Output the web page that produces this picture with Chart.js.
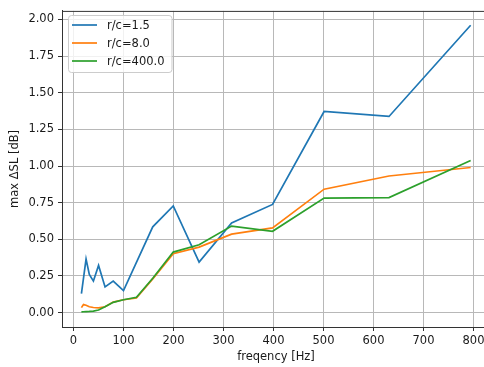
<!DOCTYPE html>
<html>
<head>
<meta charset="utf-8">
<script src="https://cdn.jsdelivr.net/npm/chart.js@4/dist/chart.umd.min.js"></script>
<style>
  html, body { margin: 0; padding: 0; overflow: hidden; background: #fff; }
  canvas { display: block; }
</style>
</head>
<body>
<canvas id="chart" width="490" height="367"></canvas>
<script>
// third-octave centre frequencies [Hz]
const freqs = [15.85, 19.95, 25.12, 31.62, 39.81, 50.12, 63.1, 79.43, 100, 125.9, 158.5, 199.5, 251.2, 316.2, 398.1, 501.2, 631, 794.3];

// max delta SL [dB] per ratio r/c
const rc15  = [0.13, null, 0.365, 0.26, 0.215, 0.322, 0.175, 0.215, 0.15, null, 0.585, 0.728, 0.345, 0.612, 0.738, 1.372, 1.338, 1.96];
const rc8   = [0.034, 0.055, 0.05, 0.04, 0.035, 0.032, 0.04, 0.072, 0.088, 0.10, 0.23, 0.402, 0.447, 0.535, 0.578, 0.842, 0.932, 0.99];
const rc400 = [0.005, 0.006, 0.007, 0.008, 0.01, 0.018, 0.04, 0.07, 0.088, 0.105, 0.235, 0.413, 0.463, 0.59, 0.555, 0.781, 0.785, 1.037];

const seriesLabels = ['r/c=1.5', 'r/c=8.0', 'r/c=400.0'];
const seriesColors = ['#1f77b4', '#ff7f0e', '#2ca02c'];

const font = { family: 'DejaVu Sans', size: 11.5 };
const textColor = '#1a1a1a';

function toPoints(vals) {
  return freqs.map((f, i) => ({ x: f, y: vals[i] }));
}

const datasets = [rc15, rc8, rc400].map((vals, i) => ({
  label: seriesLabels[i],
  data: toPoints(vals),
  borderColor: seriesColors[i],
  backgroundColor: seriesColors[i],
  borderWidth: 1.7,
  pointRadius: 0,
  tension: 0,
  spanGaps: true,
  order: 2 - i
}));

// top spine + legend box drawn inside the plot like matplotlib
const frameAndLegend = {
  id: 'frameAndLegend',
  afterDraw(chart) {
    const ctx = chart.ctx;
    const a = chart.chartArea;
    ctx.save();
    ctx.strokeStyle = '#333';
    ctx.lineWidth = 1;
    ctx.beginPath();
    ctx.moveTo(a.left, a.top + 0.5);
    ctx.lineTo(a.right, a.top + 0.5);
    ctx.stroke();

    ctx.font = `${font.size}px ${font.family}`;
    const labels = chart.data.datasets.map(d => d.label);
    const maxW = Math.max(...labels.map(l => ctx.measureText(l).width));
    const x0 = 68, y0 = 15, rowH = 18;
    const w = 39 + maxW + 7, h = rowH * labels.length + 3;
    ctx.beginPath();
    ctx.roundRect(x0 + 0.5, y0 + 0.5, w, h, 3);
    ctx.fillStyle = 'rgba(255,255,255,0.8)';
    ctx.fill();
    ctx.strokeStyle = '#cccccc';
    ctx.stroke();

    chart.data.datasets.forEach((d, i) => {
      const y = y0 + 10 + i * rowH;
      ctx.strokeStyle = d.borderColor;
      ctx.lineWidth = 1.7;
      ctx.beginPath();
      ctx.moveTo(x0 + 4, y);
      ctx.lineTo(x0 + 29, y);
      ctx.stroke();
      ctx.fillStyle = textColor;
      ctx.textBaseline = 'middle';
      ctx.textAlign = 'left';
      ctx.fillText(d.label, x0 + 39, y + 1);
    });
    ctx.restore();
  }
};

new Chart(document.getElementById('chart'), {
  type: 'line',
  data: { datasets },
  options: {
    responsive: false,
    animation: false,
    layout: { padding: { top: 9, right: 0, left: 0, bottom: 0 } },
    plugins: {
      legend: { display: false },
      tooltip: { enabled: false }
    },
    scales: {
      x: {
        type: 'linear',
        min: -23,
        max: 833,
        afterFit: s => { s.height = 40; },
        ticks: {
          stepSize: 100,
          includeBounds: false,
          maxRotation: 0,
          padding: 3,
          color: textColor,
          font
        },
        grid: { color: '#b8b8b8', lineWidth: 1, tickLength: 4, tickColor: '#333' },
        border: { color: '#333', width: 1 },
        title: {
          display: true,
          text: 'freqency [Hz]',
          color: textColor,
          font,
          padding: { top: 0, bottom: 3 }
        }
      },
      y: {
        min: -0.098,
        max: 2.058,
        afterFit: s => { s.width = 62; },
        ticks: {
          stepSize: 0.25,
          includeBounds: false,
          padding: 4,
          color: textColor,
          font,
          callback: v => v.toFixed(2)
        },
        grid: { color: '#b8b8b8', lineWidth: 1, tickLength: 4, tickColor: '#333' },
        border: { color: '#333', width: 1 },
        title: {
          display: true,
          text: 'max ΔSL [dB]',
          color: textColor,
          font,
          padding: { top: 8, bottom: 0 }
        }
      }
    }
  },
  plugins: [frameAndLegend]
});
</script>
</body>
</html>
